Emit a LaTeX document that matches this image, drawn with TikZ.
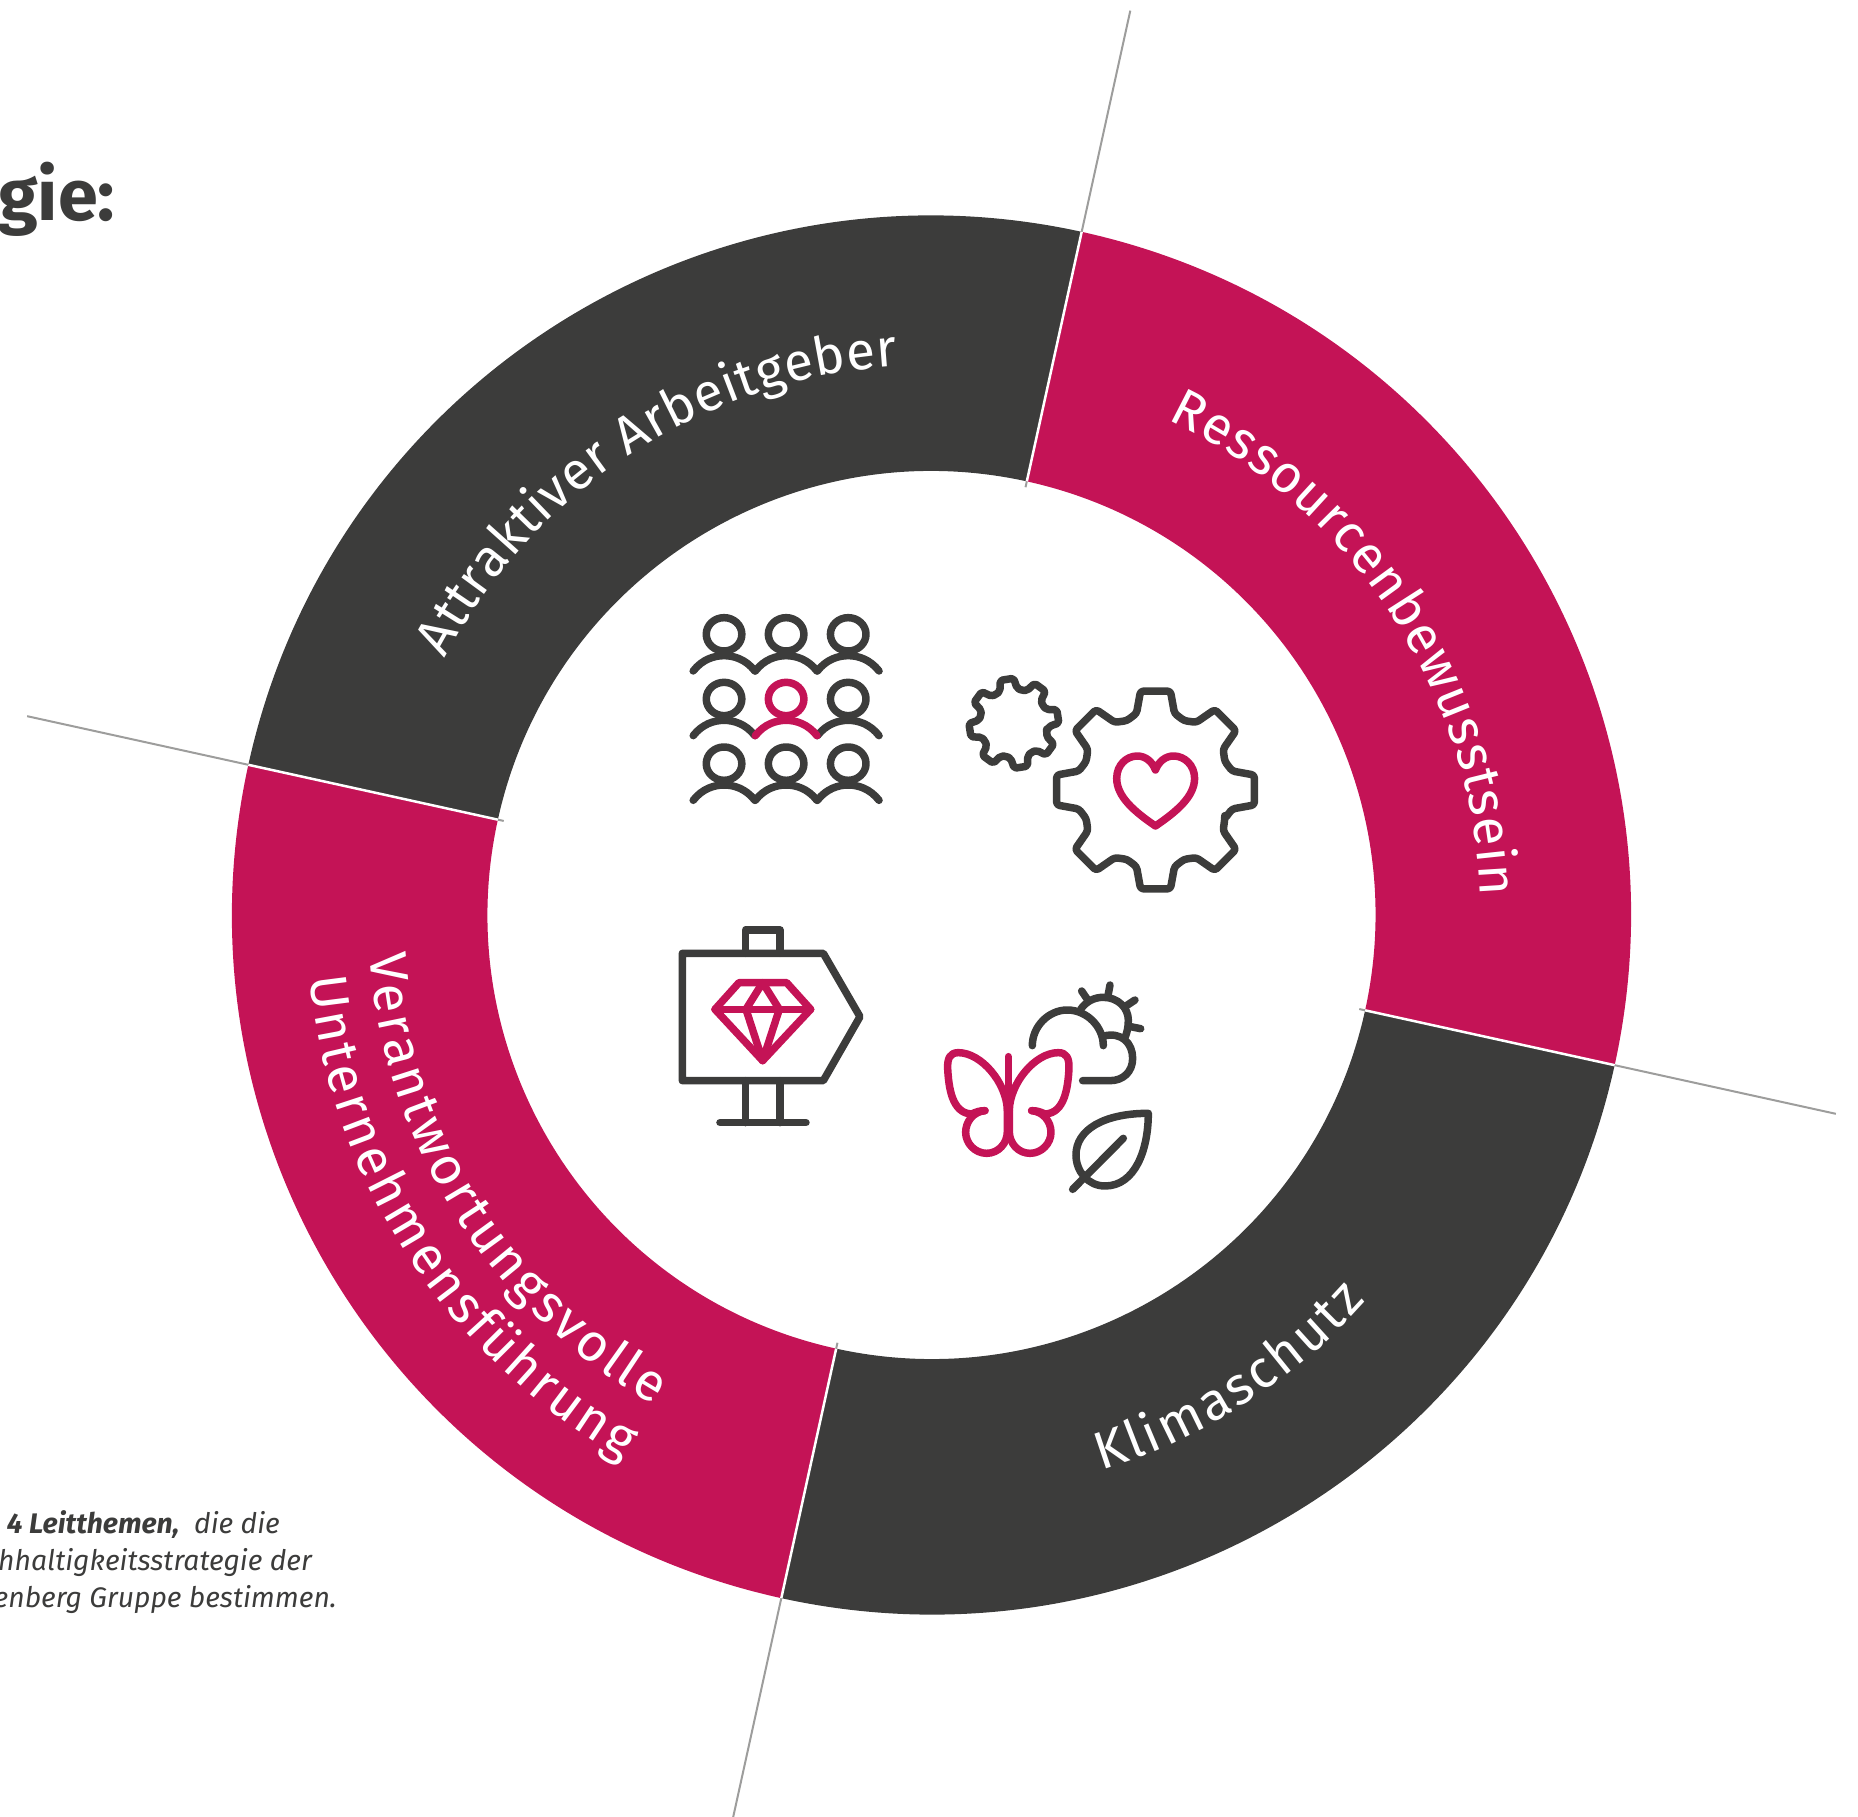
\documentclass[tikz,border=0pt]{standalone}
\usepackage{fontspec}
\usetikzlibrary{decorations.text,calc}
\setmainfont{Fira Sans}
\definecolor{ringred}{HTML}{C41356}
\definecolor{ringdark}{HTML}{3C3C3B}
\definecolor{sepgray}{HTML}{9D9D9C}
\newcommand{\ringfont}{\fontsize{53}{53}\selectfont}
% label along the ring: start angle, end angle, radius, text
\newcommand{\ringlabel}[4]{%
  \path[decorate,decoration={text along path,text color=white,text align={fit to path},
    text={|\ringfont|#4}}] (#1:#3) arc[start angle=#1,end angle=#2,radius=#3];}
% gear: centre x, centre y, size, turn, corner radius
\newcommand{\gearicon}[5]{%
  \begin{scope}[shift={(#1,#2)},scale=#3,rotate=#4]
    \draw[iconline,rounded corners=#5] (-22.5:75)
      \foreach \t in {0,45,...,315}{ -- (\t-13.9:79) -- (\t-8.6:100) -- (\t+8.6:100) -- (\t+13.9:79) -- (\t+22.5:75)} -- cycle;
  \end{scope}}
\newcommand{\personicon}[3]{%
  \draw[iconline,#3] (#1,#2) ellipse[x radius=45,y radius=50];
  \draw[iconline,#3] ($(#1,#2)+(-78,110)$) .. controls ($(#1,#2)+(-55,75)$) and ($(#1,#2)+(-25,64)$) .. ($(#1,#2)+(0,64)$)
    .. controls ($(#1,#2)+(25,64)$) and ($(#1,#2)+(55,75)$) .. ($(#1,#2)+(78,110)$);}

\begin{document}
\begin{tikzpicture}[
    x=1pt, y=1pt,
    iconline/.style={draw=ringdark, line width=7.5pt, line cap=round, line join=round},
    redline/.style={draw=ringred},
    sepwhite/.style={draw=white, line width=2.5pt},
    sepline/.style={draw=sepgray, line width=2pt},
    zoomA/.style={shift={(-271.5,325)}, x=.39541pt, y=-.33333pt},
    zoomB/.style={shift={(-271.5,5)}, x=.33333pt, y=-.33333pt},
    pagepx/.style={shift={(-931.5,915)}, y=-1pt},
    captext/.style={text=ringdark, inner sep=0pt, font=\fontsize{28.3}{29}\selectfont\itshape}
]
\useasboundingbox (-931.5,-902) rectangle (926.5,915);

% Separators under the ring
\foreach \a in {77.6,167.6,257.6,347.6}{
  \draw[sepline] (\a:438) -- (\a:926);
}

% Ring
\fill[ringdark] (77.6:699.5) arc[start angle=77.6,end angle=167.6,radius=699.5] -- (167.6:444) arc[start angle=167.6,end angle=77.6,radius=444] -- cycle;
\fill[ringred] (167.6:699.5) arc[start angle=167.6,end angle=257.6,radius=699.5] -- (257.6:444) arc[start angle=257.6,end angle=167.6,radius=444] -- cycle;
\fill[ringdark] (257.6:699.5) arc[start angle=257.6,end angle=347.6,radius=699.5] -- (347.6:444) arc[start angle=347.6,end angle=257.6,radius=444] -- cycle;
\fill[ringred] (347.6:699.5) arc[start angle=347.6,end angle=437.6,radius=699.5] -- (77.6:444) arc[start angle=437.6,end angle=347.6,radius=444] -- cycle;

% White gaps
\foreach \a in {77.6,167.6,257.6,347.6}{
  \draw[sepwhite] (\a:444) -- (\a:699.5);
}

% Ring labels
\ringlabel{152.2}{93.5}{550}{Attraktiver Arbeitgeber}
\ringlabel{64.5}{2}{549}{Ressourcenbewusstsein}
\ringlabel{-73}{-41.6}{581}{Klimaschutz}
\ringlabel{184}{240.5}{563}{Verantwortungsvolle}
\ringlabel{185.7}{240.5}{625}{Unternehmensführung}

% Title and caption
\begin{scope}[pagepx]
\node[anchor=base west, inner sep=0pt, text=ringdark, font=\fontsize{72}{72}\selectfont\bfseries] (title) at (-2,221) {gie:};
\node[captext, anchor=base east] (capA) at (280,1533) {\textbf{4 Leitthemen,}\ \ die die};
\node[captext, anchor=base east] (capB) at (312,1570) {chhaltigkeitsstrategie der};
\node[captext, anchor=base east] (capC) at (337,1607) {enberg Gruppe bestimmen.};
\end{scope}

% People
\begin{scope}[zoomA]
\foreach \r in {0,388}{
  \foreach \c in {162,319,476}{ \personicon{\c}{133+\r}{} }
}
\personicon{162}{327}{}
\personicon{476}{327}{}
\personicon{319}{327}{redline}
% Heart
\draw[iconline,redline] (1253,708) .. controls (1200,665) and (1155,620) .. (1155,565) .. controls (1155,525) and (1180,498) .. (1207,498) .. controls (1228,498) and (1245,515) .. (1253,540) .. controls (1261,515) and (1278,498) .. (1299,498) .. controls (1326,498) and (1352,525) .. (1352,565) .. controls (1352,620) and (1306,665) .. (1253,708) -- cycle;
\end{scope}

% Gears
\gearicon{224}{125}{1}{0}{3pt}
\gearicon{82.4}{191.7}{.45}{9}{2pt}

\begin{scope}[zoomB]
% Sign
\draw[iconline] (67,130) -- (490,130) -- (600,320) -- (490,512) -- (67,512) -- cycle;
\draw[iconline] (257,130) -- (257,60) -- (360,60) -- (360,130);
\draw[iconline] (257,512) -- (257,638);
\draw[iconline] (360,512) -- (360,638);
\draw[iconline] (180,638) -- (438,638);
% Diamond
\draw[iconline,redline] (237,218) -- (380,218) -- (452,298) -- (308,452) -- (165,298) -- cycle;
\draw[iconline,redline] (165,298) -- (452,298);
\draw[iconline,redline] (308,452) -- (258,298) -- (308,218) -- (358,298) -- cycle;
% Butterfly
\draw[iconline,redline] (1045,440) -- (1045,560);
\draw[iconline,redline] (1042,600) .. controls (1040,520) and (965,428) .. (895,428) .. controls (870,428) and (862,445) .. (863,475) .. controls (866,530) and (875,610) .. (935,612) .. controls (950,605) and (960,602) .. (975,602);
\draw[iconline,redline] (975,602) .. controls (940,605) and (917,635) .. (917,667) .. controls (917,700) and (945,730) .. (980,730) .. controls (1015,730) and (1042,700) .. (1042,665) -- (1042,600);
\draw[iconline,redline] (1048,600) .. controls (1050,520) and (1125,428) .. (1195,428) .. controls (1220,428) and (1228,445) .. (1227,475) .. controls (1224,530) and (1215,610) .. (1155,612) .. controls (1140,605) and (1130,602) .. (1115,602);
\draw[iconline,redline] (1115,602) .. controls (1150,605) and (1173,635) .. (1173,667) .. controls (1173,700) and (1145,730) .. (1110,730) .. controls (1075,730) and (1048,700) .. (1048,665) -- (1048,600);
% Cloud and sun
\draw[iconline] (1117,407) .. controls (1117,350) and (1165,300) .. (1222,300) .. controls (1280,300) and (1330,350) .. (1330,407);
\draw[iconline] (1332,378) .. controls (1385,365) and (1418,400) .. (1418,445) .. controls (1418,485) and (1390,512) .. (1350,512) -- (1268,512);
\draw[iconline] (1262,298) .. controls (1280,272) and (1305,262) .. (1330,262) .. controls (1375,262) and (1405,295) .. (1405,330) .. controls (1405,350) and (1402,365) .. (1396,380);
\draw[iconline] (1280,265) -- (1265,243);
\draw[iconline] (1345,252) -- (1350,225);
\draw[iconline] (1398,288) -- (1425,270);
\draw[iconline] (1412,350) -- (1442,356);
% Leaf
\draw[iconline] (1465,610) .. controls (1330,610) and (1248,660) .. (1248,735) .. controls (1248,785) and (1285,828) .. (1335,828) .. controls (1425,828) and (1465,720) .. (1465,610) -- cycle;
\draw[iconline] (1238,838) -- (1390,685);
\end{scope}
\end{tikzpicture}
\end{document}
